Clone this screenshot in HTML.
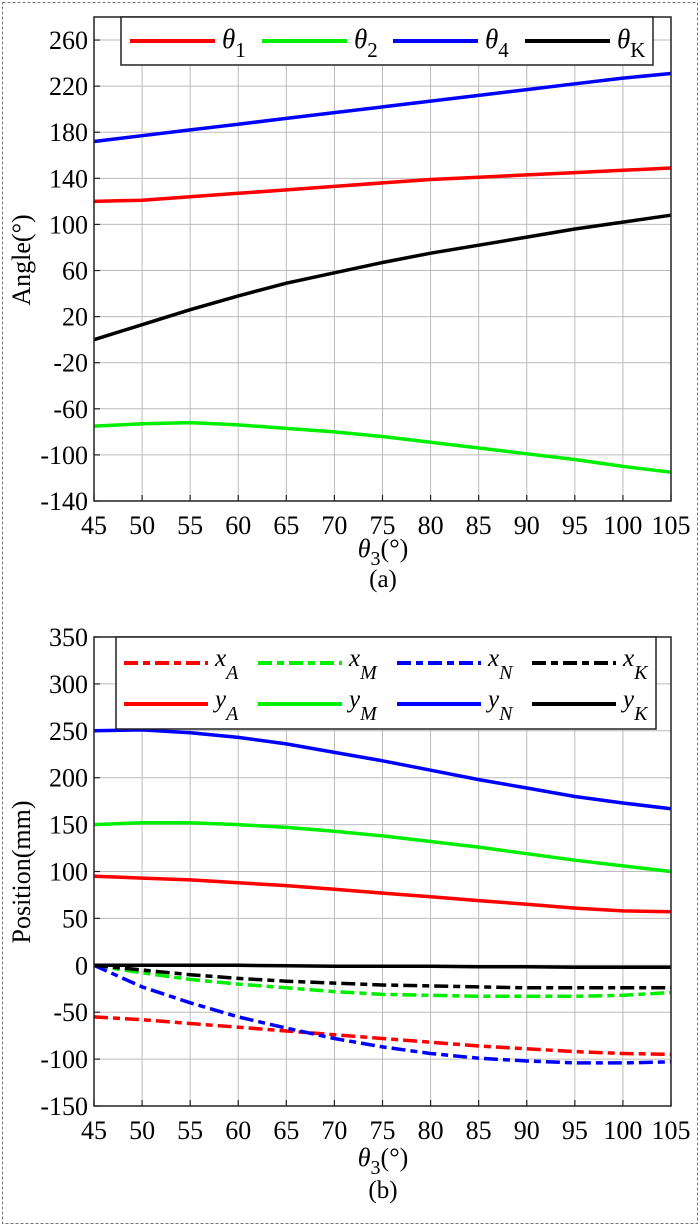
<!DOCTYPE html>
<html><head><meta charset="utf-8"><style>
html,body{margin:0;padding:0;background:#fff}
svg{display:block;font-family:"Liberation Serif",serif}
</style></head><body>
<svg id="c" width="700" height="1226" xmlns="http://www.w3.org/2000/svg">
<rect x="2.5" y="2.5" width="695" height="1221" fill="none" stroke="#777" stroke-dasharray="3,2"/>
</svg>
<script>
const xCats=[45,50,55,60,65,70,75,80,85,90,95,100,105];
const theta1=[120,121,124,127,130,133,136,139,141,143,145,147,149];
const theta2=[-75,-73,-72,-74,-77,-80,-84,-89,-94,-99,-104,-110,-115];
const theta4=[172,177,182,187,192,197,202,207,212,217,222,227,231];
const thetaK=[0,13,26,38,49,58,67,75,82,89,96,102,108];
const yTicksA=[-140,-100,-60,-20,20,60,100,140,180,220,260];
const xA=[-55,-58,-62,-66,-70,-74,-78,-82,-86,-89,-92,-94,-95];
const xM=[0,-8,-15,-20,-24,-28,-31,-32,-33,-33,-33,-32,-29];
const xN=[0,-23,-40,-55,-67,-78,-87,-94,-99,-102,-104,-104,-103];
const xK=[0,-5,-10,-14,-17,-19,-21,-22,-23,-24,-24,-24,-24];
const yA=[95,93,91,88,85,81,77,73,69,65,61,58,57];
const yM=[150,152,152,150,147,143,138,132,126,119,112,106,100];
const yN=[250,251,248,243,236,227,218,208,198,189,180,173,167];
const yK=[0,0,0,0,-0.5,-1,-1,-1,-1.5,-1.5,-2,-2,-2];
const yTicksB=[-150,-100,-50,0,50,100,150,200,250,300,350];

const svg=document.getElementById('c');
const NS='http://www.w3.org/2000/svg';
function mk(t,a,p){const e=document.createElementNS(NS,t);for(const k in a)e.setAttribute(k,a[k]);(p||svg).appendChild(e);return e;}

function chart(o){
  const L=94,R=671,T=o.T,B=o.B;
  const sx=v=>L+(v-45)/(105-45)*(R-L);
  const sy=v=>B-(v-o.ymin)/(o.ymax-o.ymin)*(B-T);
  const g=mk('g',{});
  
  
  xCats.forEach(v=>{
    const l=mk('line',{x1:sx(v),x2:sx(v),y1:T,y2:B,stroke:'#bbb','stroke-width':1},g);
    
    
    const tk=mk('line',{x1:sx(v),x2:sx(v),y1:B,y2:B-6,stroke:'#222','stroke-width':1.2},g);
    
    
    const t=mk('text',{x:sx(v),y:B+33,'text-anchor':'middle','font-size':26},g);t.textContent=v;
    
    
  });
  o.ticks.forEach(v=>{
    const l=mk('line',{x1:L,x2:R,y1:sy(v),y2:sy(v),stroke:'#bbb','stroke-width':1},g);
    
    
    const tk=mk('line',{x1:L,x2:L+6,y1:sy(v),y2:sy(v),stroke:'#222','stroke-width':1.2},g);
    
    
    const t=mk('text',{x:L-6,y:sy(v)+9,'text-anchor':'end','font-size':26},g);t.textContent=v;
    
    
  });
  o.series.forEach(s=>{
    const d=s.data.map((v,i)=>(i?'L':'M')+sx(xCats[i]).toFixed(1)+','+sy(v).toFixed(1)).join('');
    const p=mk('path',{d:d,fill:'none',stroke:s.color,'stroke-width':3.5,'stroke-dasharray':s.dash||'none'},g);
    
    
  });
  const fr=mk('rect',{x:L,y:T,width:R-L,height:B-T,fill:'none',stroke:'#222','stroke-width':1.5},g);
  
  
  return {g,sx,sy};
}
const dd='14,5,7,5';
const A=chart({name:'angle-chart',T:17,B:501,ymin:-140,ymax:280,ticks:yTicksA,series:[
 {id:'theta1',data:theta1,color:'#ff0000'},{id:'theta2',data:theta2,color:'#00ee00'},
 {id:'theta4',data:theta4,color:'#0000ff'},{id:'thetaK',data:thetaK,color:'#000'}]});
const Bc=chart({name:'position-chart',T:637,B:1106,ymin:-150,ymax:350,ticks:yTicksB,series:[
 {id:'yA',data:yA,color:'#ff0000'},{id:'yM',data:yM,color:'#00ee00'},{id:'yN',data:yN,color:'#0000ff'},{id:'yK',data:yK,color:'#000'},
 {id:'xA',data:xA,color:'#ff0000',dash:dd},{id:'xM',data:xM,color:'#00ee00',dash:dd},{id:'xN',data:xN,color:'#0000ff',dash:dd},{id:'xK',data:xK,color:'#000',dash:dd}]});

// legend A
const lg=mk('g',{});


mk('rect',{x:121,y:17,width:532,height:48,fill:'#fff',stroke:'#222','stroke-width':1.5},lg);
[['#ff0000','1',130],['#00ee00','2',262],['#0000ff','4',393],['#000','K',525]].forEach(e=>{
  const l=mk('line',{x1:e[2],x2:e[2]+85,y1:41,y2:41,stroke:e[0],'stroke-width':4},lg);
  
  
  const t=mk('text',{x:e[2]+92,y:48,'font-size':27,'font-style':'italic'},lg);
  
  
  t.innerHTML='θ<tspan dy="9" font-size="21" font-style="normal">'+e[1]+'</tspan>';
});
// legend B
const lb=mk('g',{});


mk('rect',{x:116,y:637,width:540,height:92,fill:'#fff',stroke:'#222','stroke-width':1.5},lb);
[['#ff0000','A',124],['#00ee00','M',258],['#0000ff','N',397],['#000','K',532]].forEach(e=>{
  [['x',663,dd],['y',704,'none']].forEach(r=>{
    const l=mk('line',{x1:e[2],x2:e[2]+84,y1:r[1],y2:r[1],stroke:e[0],'stroke-width':4,'stroke-dasharray':r[2]},lb);
    
    
    const t=mk('text',{x:e[2]+91,y:r[1]+3,'font-size':25,'font-style':'italic'},lb);
    
    
    t.innerHTML=r[0]+'<tspan dy="13" font-size="20">'+e[1]+'</tspan>';
  });
});
// titles
function txt(name,x,y,s,html,rot){
  const t=mk('text',{x:x,y:y,'text-anchor':'middle','font-size':s});
  if(rot)t.setAttribute('transform','rotate(-90 '+x+' '+y+')');
  
  
  t.innerHTML=html;
}
txt('x-axis-title-a',383,557,26,'<tspan font-style="italic">θ</tspan><tspan dy="8" font-size="20">3</tspan><tspan dy="-8">(°)</tspan>');
txt('caption-a',383,587,25,'(a)');
txt('y-axis-title-a',30,260,26,'Angle(°)',true);
txt('x-axis-title-b',383,1166,26,'<tspan font-style="italic">θ</tspan><tspan dy="8" font-size="20">3</tspan><tspan dy="-8">(°)</tspan>');
txt('caption-b',383,1198,25,'(b)');
txt('y-axis-title-b',30,872,26,'Position(mm)',true);
</script>
</body></html>
